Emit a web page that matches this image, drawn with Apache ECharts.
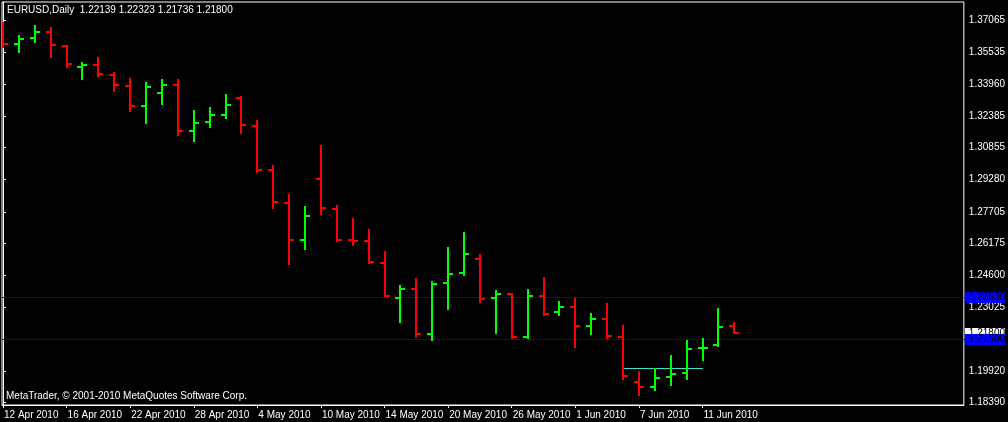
<!DOCTYPE html>
<html>
<head>
<meta charset="utf-8">
<script src="https://cdn.jsdelivr.net/npm/echarts@6/dist/echarts.min.js"></script>
<style>
html,body{margin:0;padding:0;background:#000;}
#chart{width:1008px;height:422px;}
</style>
</head>
<body>
<div id="chart"></div>
<script>
const symbolName = 'EURUSD,Daily';
const dates = ['12 Apr 2010','13 Apr 2010','14 Apr 2010','15 Apr 2010','16 Apr 2010','19 Apr 2010','20 Apr 2010','21 Apr 2010','22 Apr 2010','23 Apr 2010',
  '26 Apr 2010','27 Apr 2010','28 Apr 2010','29 Apr 2010','30 Apr 2010','3 May 2010','4 May 2010','5 May 2010','6 May 2010','7 May 2010',
  '10 May 2010','11 May 2010','12 May 2010','13 May 2010','14 May 2010','17 May 2010','18 May 2010','19 May 2010','20 May 2010','21 May 2010',
  '24 May 2010','25 May 2010','26 May 2010','27 May 2010','28 May 2010','31 May 2010','1 Jun 2010','2 Jun 2010','3 Jun 2010','4 Jun 2010',
  '7 Jun 2010','8 Jun 2010','9 Jun 2010','10 Jun 2010','11 Jun 2010','14 Jun 2010','15 Jun 2010'];
const openP  = [1.36600,1.35916,1.36209,1.36517,1.35833,1.34806,1.34904,1.34415,1.33877,1.32900,
  1.33535,1.33926,1.31678,1.32118,1.32460,1.33291,1.31922,1.29742,1.28143,1.26334,
  1.29331,1.27864,1.26334,1.26300,1.25224,1.23484,1.23953,1.21739,1.24247,1.24736,
  1.25420,1.23484,1.23709,1.21607,1.23582,1.22814,1.23073,1.22130,1.22472,1.21592,
  1.19392,1.19148,1.19651,1.19847,1.21054,1.21216,1.22139];
const highP  = [1.37006,1.36356,1.36845,1.36747,1.35852,1.35036,1.35280,1.34547,1.34254,1.34058,
  1.34205,1.34205,1.32689,1.32836,1.33472,1.33374,1.32201,1.30001,1.28583,1.27996,
  1.30978,1.28045,1.27410,1.26872,1.25796,1.24134,1.24476,1.24330,1.25992,1.26725,
  1.25650,1.23890,1.23729,1.23939,1.24525,1.23352,1.23499,1.22765,1.23254,1.22179,
  1.19930,1.20077,1.20712,1.21445,1.21543,1.23010,1.22323];
const lowP   = [1.35706,1.35491,1.35980,1.35246,1.34757,1.34171,1.34317,1.33584,1.32606,1.32020,
  1.32949,1.31433,1.31140,1.31824,1.32249,1.31531,1.29624,1.27864,1.25112,1.25860,
  1.27571,1.26251,1.26055,1.25146,1.23562,1.22291,1.21558,1.21411,1.22927,1.24589,
  1.23269,1.21753,1.21509,1.21509,1.22633,1.22633,1.21069,1.21705,1.21509,1.19505,
  1.18722,1.18967,1.19211,1.19505,1.20434,1.21118,1.21736];
const closeP = [1.35916,1.36175,1.36517,1.35867,1.34938,1.34904,1.34464,1.33926,1.32900,1.33829,
  1.33926,1.31678,1.32069,1.32460,1.32949,1.31971,1.29756,1.28192,1.26334,1.27507,
  1.27913,1.26334,1.26300,1.25273,1.23597,1.23953,1.21739,1.24198,1.24687,1.25664,
  1.23450,1.23709,1.21607,1.23582,1.22717,1.23073,1.22130,1.22472,1.21641,1.19686,
  1.19148,1.19588,1.19798,1.21006,1.21060,1.22096,1.21800];
const priceTicks = [1.37065,1.35535,1.33960,1.32385,1.30855,1.29280,1.27705,1.26175,1.24600,1.23025,1.19920,1.18390];
const dateTickIdx = [0,4,8,12,16,20,24,28,32,36,40,44];
const levelLines = [1.23530, 1.21500];
const channelLevel = 1.20062;
const channelFrom = 39, channelTo = 44;
const copyright = 'MetaTrader, \u00A9 2001-2010 MetaQuotes Software Corp.';

const FONT = "'Liberation Sans',Arial,sans-serif";
const FS = 10;
const last = dates.length - 1;
const titleText = symbolName + '  ' + [openP[last],highP[last],lowP[last],closeP[last]].map(v=>v.toFixed(5)).join(' ');

const barData = dates.map((d,i)=>[i, openP[i], highP[i], lowP[i], closeP[i]]);
// [price, kind] kind 0 = bid label only, 1 = horizontal level line
const levelData = [[closeP[last], 0]].concat(levelLines.map(v=>[v, 1]));

function renderBar(params, api){
  const i = api.value(0);
  const o = api.value(1), h = api.value(2), l = api.value(3), c = api.value(4);
  const pH = api.coord([i,h]), pL = api.coord([i,l]), pO = api.coord([i,o]), pC = api.coord([i,c]);
  const col = c >= o ? '#00ff00' : '#ff0000';
  const cx = Math.round(pH[0]);
  const yH = Math.round(pH[1]), yL = Math.round(pL[1]);
  const yO = Math.round(pO[1]), yC = Math.round(pC[1]);
  return {type:'group', children:[
    {type:'rect', shape:{x:cx-1, y:yH, width:2, height:Math.max(2,yL-yH)}, style:{fill:col}},
    {type:'rect', shape:{x:cx-5, y:yO-1, width:4, height:2}, style:{fill:col}},
    {type:'rect', shape:{x:cx+1, y:yC-1, width:4, height:2}, style:{fill:col}}
  ]};
}

function renderLevelLine(params, api){
  const kind = api.value(1);
  if (kind !== 1) return null;
  const cs = params.coordSys;
  const y = Math.round(api.coord([0, api.value(0)])[1]) + 0.5;
  return {type:'line', shape:{x1:cs.x, y1:y, x2:cs.x+cs.width, y2:y}, style:{stroke:'#0000dd', lineWidth:1}};
}

function renderLevelLabel(params, api){
  const kind = api.value(1);
  const v = api.value(0);
  const cs = params.coordSys;
  const y = Math.round(api.coord([0, v])[1]);
  const x0 = cs.x + cs.width + 1;
  return {type:'group', children:[
    {type:'rect', shape:{x:x0, y:y-5, width:40, height:11}, style:{fill: kind === 1 ? '#0000ff' : '#ffffff'}},
    {type:'text', style:{text:v.toFixed(5), x:x0+4, y:y+0.5, verticalAlign:'middle', align:'left', fill:'#000000', font:FS+'px '+FONT}}
  ]};
}

function renderChannel(params, api){
  const p1 = api.coord([api.value(0), api.value(2)]);
  const p2 = api.coord([api.value(1), api.value(2)]);
  const y = Math.round(p1[1]) + 0.5;
  return {type:'line', shape:{x1:Math.round(p1[0]), y1:y, x2:Math.round(p2[0]), y2:y}, style:{stroke:'#40e0d0', lineWidth:1}};
}

const chart = echarts.init(document.getElementById('chart'), null, {renderer:'canvas'});
chart.setOption({
  backgroundColor:'#000000',
  animation:false,
  grid:{left:2, top:2, right:38, bottom:17, show:true, borderColor:'#ffffff', borderWidth:1, backgroundColor:'#000000'},
  xAxis:{
    type:'value', min:-0.0625, max:60.4375,
    axisLine:{show:true, lineStyle:{color:'#ffffff', width:1}},
    axisTick:{show:true, length:3, customValues:dateTickIdx, lineStyle:{color:'#ffffff'}},
    axisLabel:{show:true, customValues:dateTickIdx, formatter:v=>dates[Math.round(v)]||'', color:'#ffffff',
      fontFamily:FONT, fontSize:FS, align:'left', margin:5, padding:[0,0,0,1]},
    splitLine:{show:false}
  },
  yAxis:{
    type:'value', position:'right', min:1.18268, max:1.37969,
    axisLine:{show:true, lineStyle:{color:'#ffffff', width:1}},
    axisTick:{show:true, length:3, customValues:priceTicks, lineStyle:{color:'#ffffff'}},
    axisLabel:{show:true, customValues:priceTicks, formatter:v=>v.toFixed(5), color:'#ffffff',
      fontFamily:FONT, fontSize:FS, margin:5},
    splitLine:{show:false}
  },
  graphic:[
    {type:'text', left:7, top:5, style:{text:titleText, fill:'#ffffff', font:FS+'px '+FONT}},
    {type:'text', left:6, top:391, style:{text:copyright, fill:'#ffffff', font:FS+'px '+FONT}}
  ],
  series:[
    {type:'custom', name:'levels', renderItem:renderLevelLine, data:levelData, encode:{x:-1, y:0}, z:1, clip:true, silent:true},
    {type:'custom', name:'channel', renderItem:renderChannel, data:[[channelFrom, channelTo, channelLevel]], encode:{x:[0,1], y:2}, z:2, clip:true, silent:true},
    {type:'custom', name:'EURUSD', renderItem:renderBar, data:barData, encode:{x:0, y:[1,2,3,4]}, z:3, clip:true},
    {type:'custom', name:'levelLabels', renderItem:renderLevelLabel, data:levelData, encode:{x:-1, y:0}, z:10, clip:false, silent:true}
  ]
});
</script>
</body>
</html>
